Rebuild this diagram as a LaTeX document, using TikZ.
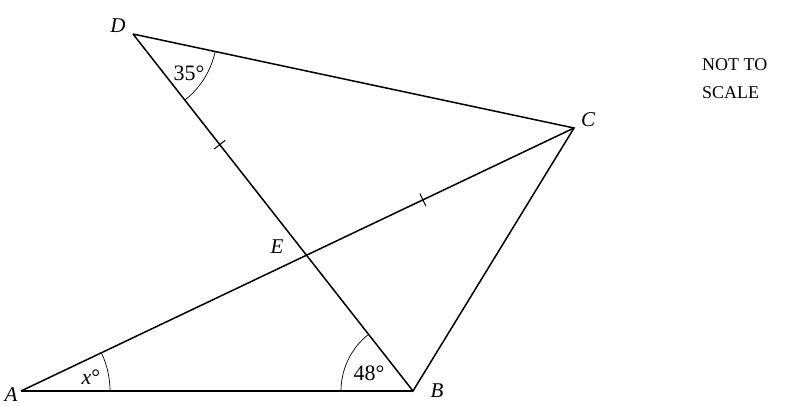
\documentclass[tikz,border=0pt]{standalone}
\usepackage{fontspec}
\setmainfont{Liberation Serif}
\usetikzlibrary{calc}
\definecolor{baseline}{RGB}{115,35,40}
\tikzset{
  side/.style={line width=1.5pt},
  tick/.style={line width=1pt},
  anglearc/.style={line width=0.7pt},
  lbl/.style={font=\fontsize{21}{26}\selectfont\itshape, inner sep=0pt},
  deg/.style={font=\fontsize{22}{26}\selectfont, inner sep=0pt},
  note/.style={font=\fontsize{18}{28}\selectfont, inner sep=0pt},
}
\begin{document}
\begin{tikzpicture}[x=1pt,y=-1pt]
\useasboundingbox (0,0) rectangle (787,405);

\coordinate (A) at (21,391);
\coordinate (B) at (413,391);
\coordinate (C) at (574,128);
\coordinate (D) at (133,34);
\coordinate (E) at (intersection of D--B and A--C);

\draw[side] (D) -- (C) -- (B) -- (D);
\draw[side] (A) -- (C);
\draw[side,baseline] (A) -- (B);

% angles (y axis points down, so angles run clockwise)
\draw[anglearc] ([shift={(0:89)}]A) arc[start angle=0,end angle=-25.4,radius=89];
\draw[anglearc] ([shift={(180:72)}]B) arc[start angle=180,end angle=231.9,radius=72];
\draw[anglearc] ([shift={(12:84)}]D) arc[start angle=12,end angle=51.8,radius=84];

% equal sides
\path (D) -- (E) coordinate[pos=0.5] (tickDE);
\path (E) -- (C) coordinate[pos=0.435] (tickEC);
\draw[tick] ($(tickDE)!7pt!90:(E)$) -- ($(tickDE)!7pt!-90:(E)$);
\draw[tick] ($(tickEC)!7pt!90:(C)$) -- ($(tickEC)!7pt!-90:(C)$);

\node[lbl] at (11,395) {A};
\node[lbl] at (437,391) {B};
\node[lbl] at (588,120) {C};
\node[lbl] at (118,26) {D};
\node[lbl] at (277,247) {E};

\node[deg] at (91,377) {\textit{x}°};
\node[deg] at (369,373) {48°};
\node[deg] at (189,73) {35°};

\node[note, anchor=north west, align=left] at (702,58) {NOT TO\\SCALE};
\end{tikzpicture}
\end{document}
